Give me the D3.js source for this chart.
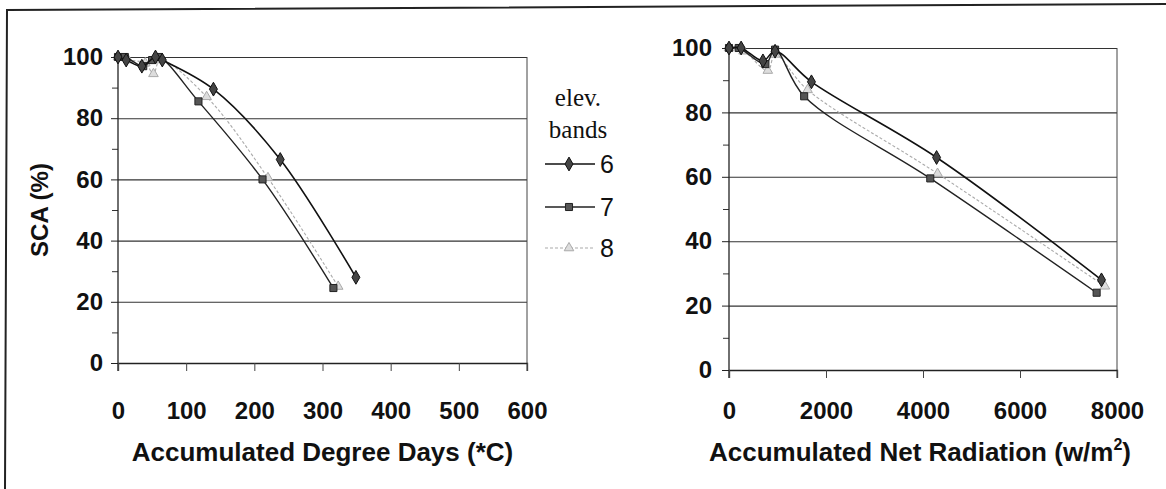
<!DOCTYPE html>
<html>
<head>
<meta charset="utf-8">
<script src="https://cdn.jsdelivr.net/npm/d3@7"></script>
<style>
  body { margin: 0; background: #fff; }
  svg { display: block; }
  .tick text { font-family: "Liberation Sans", Arial, sans-serif; font-weight: bold; fill: #111; }
</style>
</head>
<body>
<script>
// bandas de elevacao
const bandas = ["6", "7", "8"];

// SCA (%) x graus-dia acumulados
const gd6 = [[0, 100], [12, 99], [35, 97], [55, 100], [65, 99], [140, 89.5], [238, 66.5], [349, 28]];
const gd7 = [[0, 100], [10, 100], [37, 97], [50, 99], [60, 100], [118, 85.5], [212, 60], [316, 24.5]];
const gd8 = [[0, 100], [15, 99], [40, 98], [52, 94.5], [62, 99], [130, 87], [220, 60.5], [323, 25]];

// SCA (%) x radiacao liquida acumulada
const rl6 = [[0, 100], [250, 100], [700, 96], [950, 99], [1700, 89.5], [4280, 66], [7680, 28]];
const rl7 = [[0, 100], [200, 100], [750, 95], [950, 99.5], [1550, 85], [4150, 59.5], [7580, 24]];
const rl8 = [[0, 100], [300, 99], [800, 93], [950, 98], [1620, 87], [4300, 61], [7750, 26]];

const ticksSCA = [0, 20, 40, 60, 80, 100];
const ticksMenores = [10, 30, 50, 70, 90];
const ticksGD = [0, 100, 200, 300, 400, 500, 600];
const ticksRL = [0, 2000, 4000, 6000, 8000];

const largura = 1166;
const altura = 489;

const estilos = [
  { cor: "#111", largura: 1.6, traco: null, simbolo: d3.symbolDiamond, tam: 55, preench: "#444", borda: "#111" },
  { cor: "#222", largura: 1.4, traco: null, simbolo: d3.symbolSquare, tam: 50, preench: "#555", borda: "#222" },
  { cor: "#aaa", largura: 1.1, traco: "3,2", simbolo: d3.symbolTriangle, tam: 40, preench: "#ddd", borda: "#aaa" }
];

var svg = d3.select("body")
            .append("svg")
            .attr("width", largura)
            .attr("height", altura);

// moldura do scan
svg.append("path")
   .attr("d", "M5,489 L7,10 L1166,4")
   .attr("fill", "none")
   .attr("stroke", "#222")
   .attr("stroke-width", 2);

function grafico(cfg) {
  var x = d3.scaleLinear().domain(cfg.xDominio).range(cfg.xFaixa);
  var y = d3.scaleLinear().domain([0, 100]).range(cfg.yFaixa);
  var g = svg.append("g");

  // grade horizontal
  g.append("g")
   .attr("transform", "translate(" + cfg.xFaixa[0] + ",0)")
   .call(d3.axisLeft(y).tickValues(ticksSCA).tickSize(-(cfg.xFaixa[1] - cfg.xFaixa[0])).tickFormat(""))
   .call(function(s) { s.select(".domain").remove(); })
   .selectAll("line").attr("stroke", "#333").attr("stroke-width", 1.1);

  // borda direita
  g.append("line")
   .attr("x1", x(cfg.xDominio[1])).attr("x2", x(cfg.xDominio[1]))
   .attr("y1", y(100)).attr("y2", y(0) + 8)
   .attr("stroke", "#444").attr("stroke-width", 1);

  // eixo y
  var ey = g.append("g")
            .attr("transform", "translate(" + cfg.xFaixa[0] + ",0)")
            .call(d3.axisLeft(y).tickValues(ticksSCA).tickSize(7).tickPadding(cfg.yPad));
  ey.select(".domain").remove();
  ey.selectAll("line").attr("stroke", "#222");
  ey.selectAll("text").style("font-size", "24px");

  g.append("g")
   .attr("transform", "translate(" + cfg.xFaixa[0] + ",0)")
   .call(d3.axisLeft(y).tickValues(ticksMenores).tickSize(6).tickFormat(""))
   .call(function(s) { s.select(".domain").remove(); })
   .selectAll("line").attr("stroke", "#333");

  g.append("line")
   .attr("x1", cfg.xFaixa[0]).attr("x2", cfg.xFaixa[0])
   .attr("y1", y(100)).attr("y2", y(0) + 8)
   .attr("stroke", "#222").attr("stroke-width", 1.3);

  // eixo x
  var ex = g.append("g")
            .attr("transform", "translate(0," + y(0) + ")")
            .call(d3.axisBottom(x).tickValues(cfg.ticks).tickSize(8).tickPadding(cfg.xPad).tickFormat(d3.format("d")));
  ex.select(".domain").attr("stroke", "#222").attr("stroke-width", 1.3);
  ex.selectAll("line").attr("stroke", "#444");
  ex.selectAll("text").style("font-size", "24px");

  var linha = d3.line()
                .x(function(d) { return x(d[0]); })
                .y(function(d) { return y(d[1]); })
                .curve(d3.curveCatmullRom.alpha(0.5));

  // series (8 por baixo)
  [2, 1, 0].forEach(function(i) {
    var e = estilos[i];
    g.append("path")
     .datum(cfg.series[i])
     .attr("fill", "none")
     .attr("stroke", e.cor)
     .attr("stroke-width", e.largura)
     .attr("stroke-dasharray", e.traco)
     .attr("d", linha);

    g.selectAll(null)
     .data(cfg.series[i])
     .enter()
     .append("path")
     .attr("transform", function(d) { return "translate(" + x(d[0]) + "," + y(d[1]) + ")"; })
     .attr("d", d3.symbol().type(e.simbolo).size(e.tam))
     .attr("fill", e.preench)
     .attr("stroke", e.borda)
     .attr("stroke-width", 1);
  });

  // titulo do eixo x
  var t = g.append("text")
           .attr("x", (cfg.xFaixa[0] + cfg.xFaixa[1]) / 2 + cfg.tituloDx)
           .attr("y", 461)
           .attr("text-anchor", "middle")
           .style("font-family", "Liberation Sans, Arial, sans-serif")
           .style("font-weight", "bold")
           .style("font-size", "26px")
           .attr("fill", "#111");
  t.append("tspan").text(cfg.titulo);
  if (cfg.sobrescrito) {
    t.append("tspan").attr("dy", -11).style("font-size", "16px").text(cfg.sobrescrito);
    t.append("tspan").attr("dy", 11).text(")");
  }
  return { x: x, y: y };
}

var g1 = grafico({
  xDominio: [0, 600], xFaixa: [118, 527], yFaixa: [363, 57],
  ticks: ticksGD, series: [gd6, gd7, gd8], yPad: 8, xPad: 31,
  titulo: "Accumulated Degree Days (*C)", tituloDx: 0
});

var g2 = grafico({
  xDominio: [0, 8000], xFaixa: [729, 1117], yFaixa: [370, 48],
  ticks: ticksRL, series: [rl6, rl7, rl8], yPad: 10, xPad: 24,
  titulo: "Accumulated Net Radiation (w/m", sobrescrito: "2", tituloDx: -3
});

// titulo do eixo y
svg.append("text")
   .attr("transform", "translate(48,210) rotate(-90)")
   .attr("text-anchor", "middle")
   .style("font-family", "Liberation Sans, Arial, sans-serif")
   .style("font-weight", "bold")
   .style("font-size", "24px")
   .attr("fill", "#111")
   .text("SCA (%)");

// legenda
var legenda = svg.append("g");
legenda.append("text").attr("x", 578).attr("y", 106).attr("text-anchor", "middle")
       .style("font-family", "Liberation Serif, Times New Roman, serif").style("font-size", "25px")
       .attr("fill", "#111").text("elev.");
legenda.append("text").attr("x", 578).attr("y", 138).attr("text-anchor", "middle")
       .style("font-family", "Liberation Serif, Times New Roman, serif").style("font-size", "25px")
       .attr("fill", "#111").text("bands");

var itens = legenda.selectAll("g.item")
                   .data(bandas)
                   .enter()
                   .append("g")
                   .attr("class", "item")
                   .attr("transform", function(d, i) { return "translate(0," + [164, 207, 248][i] + ")"; });

itens.append("line")
     .attr("x1", 545).attr("x2", 595)
     .attr("stroke", function(d, i) { return estilos[i].cor; })
     .attr("stroke-width", function(d, i) { return estilos[i].largura; })
     .attr("stroke-dasharray", function(d, i) { return estilos[i].traco; });

itens.append("path")
     .attr("transform", "translate(569,0)")
     .attr("d", function(d, i) { return d3.symbol().type(estilos[i].simbolo).size(estilos[i].tam)(); })
     .attr("fill", function(d, i) { return estilos[i].preench; })
     .attr("stroke", function(d, i) { return estilos[i].borda; });

itens.append("text")
     .attr("x", 600)
     .attr("y", 9)
     .style("font-family", "Liberation Sans, Arial, sans-serif")
     .style("font-size", "25px")
     .attr("fill", "#111")
     .text(function(d) { return d; });
</script>
</body>
</html>
